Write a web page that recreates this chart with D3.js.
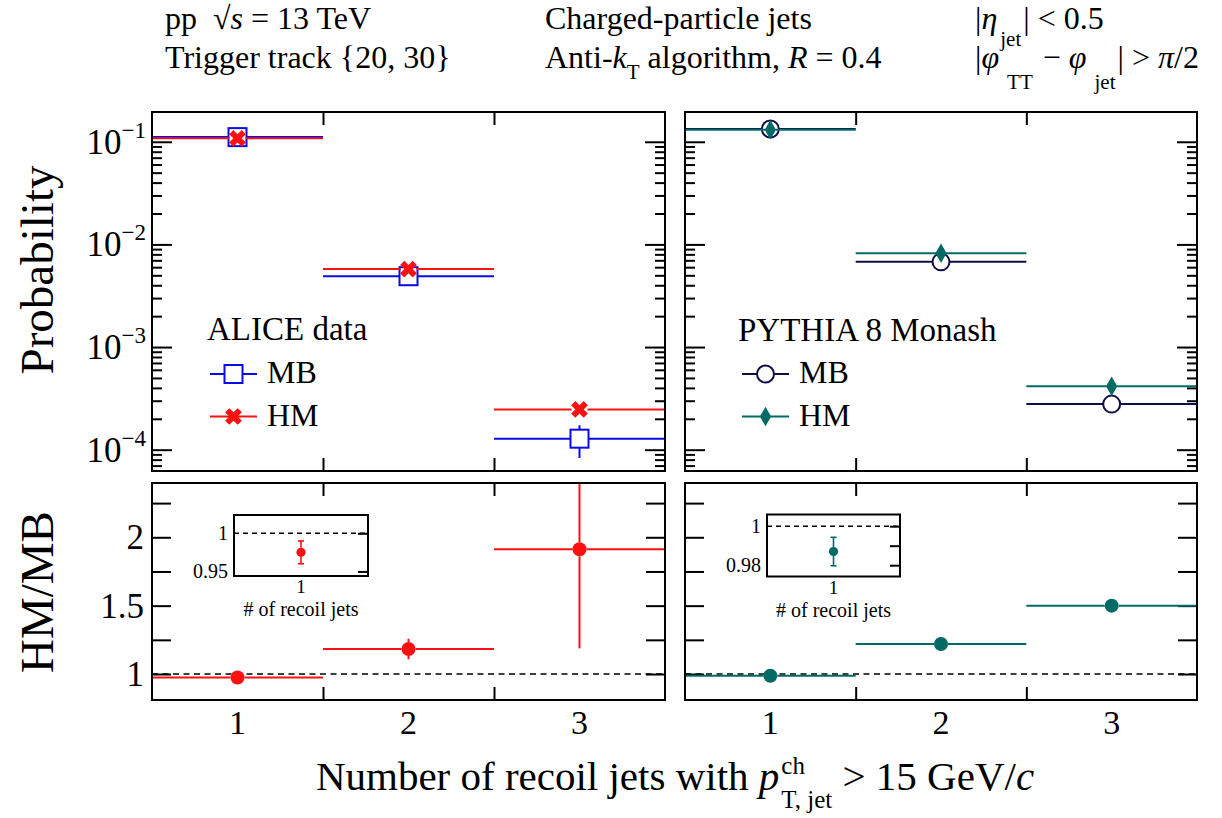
<!DOCTYPE html>
<html>
<head>
<meta charset="utf-8">
<script src="https://cdn.jsdelivr.net/npm/d3@7"></script>
<style>
  body { margin: 0; background: #fff; }
  text { font-family: "Liberation Serif", "Times New Roman", serif; fill: #000; white-space: pre; }
</style>
</head>
<body>
<div id="chart"></div>
<script>
// values (bins = number of recoil jets)
var bins = [1, 2, 3];
var binLabels = ["1", "2", "3"];

var aliceMB = [0.111, 0.0049, 0.000128];
var aliceMBErr = [0.0005, 0.00005, 0.000045];
var aliceHM = [0.108, 0.00575, 0.000247];
var aliceHMErr = [0.0003, 0.00003, 0.000008];

var pythiaMB = [0.133, 0.00676, 0.000278];
var pythiaHM = [0.131, 0.0082, 0.000416];

var aliceRatio = [0.975, 1.183, 1.912];
var aliceRatioErr = [0.015, 0.075, 0.724];
var pythiaRatio = [0.987, 1.22, 1.50];
var pythiaRatioErr = [0.0073, 0.01, 0.02];

var logTickValues = [1e-1, 1e-2, 1e-3, 1e-4];
var logTickExp = ["\u22121", "\u22122", "\u22123", "\u22124"];
var ratioTickValues = [1, 1.5, 2];
var ratioTickLabels = ["1", "1.5", "2"];
var ratioMinor = [1.25, 1.75, 2.25];
var aliceInsetTicks = [0.95, 1];
var aliceInsetLabels = ["0.95", "1"];
var pythiaInsetTicks = [0.98, 0.99, 1];
var pythiaInsetLabels = ["0.98", "", "1"];

var cBlue = "#0a0ae8", cRed = "#ff1010", cNavy = "#0e0e48", cTeal = "#006b64";

var svg = d3.select("#chart").append("svg")
  .attr("width", 1222).attr("height", 818);
var defs = svg.append("defs");

// panel geometry
var colL = [152, 665], colR = [685, 1197];
var rowTop = [112, 471], rowBot = [483, 700];

var xL = d3.scaleLinear().domain([0.5, 3.5]).range(colL);
var xR = d3.scaleLinear().domain([0.5, 3.5]).range(colR);
var yTop = d3.scaleLog().domain([6.2e-5, 0.195]).range([rowTop[1], rowTop[0]]);
var yRat = d3.scaleLinear().domain([0.81, 2.397]).range([rowBot[1], rowBot[0]]);

// text made of runs (italic, sub/superscripts)
function rich(g, x, y, runs, anchor, base) {
  var grp = g.append("g");
  var cursor = 0, prevStart = 0;
  runs.forEach(function(r) {
    var start = r.stack ? prevStart : cursor + (r.dx || 0);
    var t = grp.append("text")
      .attr("x", start).attr("y", y + (r.dy || 0))
      .attr("font-size", r.size || base)
      .attr("font-style", r.it ? "italic" : null)
      .text(r.t);
    var w = t.node().getComputedTextLength();
    prevStart = start;
    cursor = Math.max(cursor, start + w);
  });
  var shift = anchor === "end" ? -cursor : anchor === "middle" ? -cursor / 2 : 0;
  grp.attr("transform", "translate(" + (x + shift) + ",0)");
  return grp;
}

function styleTicks(s) {
  s.select(".domain").remove();
  s.selectAll("line").attr("stroke", "#000").attr("stroke-width", 2);
}

function ticksY(g, scale, x, side, values, len) {
  var ax = (side === "left" ? d3.axisLeft(scale) : d3.axisRight(scale))
    .tickValues(values).tickSize(-len).tickFormat("");
  g.append("g").attr("transform", "translate(" + x + ",0)").call(ax).call(styleTicks);
}

function ticksX(g, scale, y, side, values, len) {
  var ax = (side === "top" ? d3.axisTop(scale) : d3.axisBottom(scale))
    .tickValues(values).tickSize(-len).tickFormat("");
  g.append("g").attr("transform", "translate(0," + y + ")").call(ax).call(styleTicks);
}

function clipFor(id, xr, yr) {
  defs.append("clipPath").attr("id", id).append("rect")
    .attr("x", xr[0]).attr("y", yr[0]).attr("width", xr[1] - xr[0]).attr("height", yr[1] - yr[0]);
  return svg.append("g").attr("clip-path", "url(#" + id + ")");
}

// markers
function mSquare(g, x, y, col) {
  g.append("rect").attr("x", x - 9).attr("y", y - 9).attr("width", 18).attr("height", 18)
    .attr("fill", "#fff").attr("stroke", col).attr("stroke-width", 2);
}
function mX(g, x, y, col) {
  g.append("path").attr("d", d3.symbol(d3.symbolCross, 175)())
    .attr("transform", "translate(" + x + "," + y + ") rotate(45)").attr("fill", col);
}
function mCircle(g, x, y, col) {
  g.append("circle").attr("cx", x).attr("cy", y).attr("r", 8.5)
    .attr("fill", "#fff").attr("stroke", col).attr("stroke-width", 2);
}
function mDiamond(g, x, y, col) {
  g.append("path").attr("d", d3.symbol(d3.symbolDiamond, 110)())
    .attr("transform", "translate(" + x + "," + y + ")").attr("fill", col);
}
function mDot(r) {
  return function(g, x, y, col) {
    g.append("circle").attr("cx", x).attr("cy", y).attr("r", r).attr("fill", col);
  };
}

// horizontal bin-width bar + vertical error, stopping at the marker edge like ROOT
function drawSeries(g, xs, ys, vals, errs, col, marker, hw, hh) {
  vals.forEach(function(v, i) {
    var b = bins[i];
    var cx = xs(b), cy = ys(v);
    var seg = [[xs(b - 0.5), cy, cx - hw, cy], [cx + hw, cy, xs(b + 0.5), cy]];
    if (errs && errs[i]) {
      var lo = Math.max(v - errs[i], ys.domain()[0]);
      seg.push([cx, ys(v + errs[i]), cx, cy - hh]);
      if (ys(lo) > cy + hh) seg.push([cx, cy + hh, cx, ys(lo)]);
    }
    seg.forEach(function(s) {
      if ((s[2] - s[0]) < 0 || (s[3] - s[1]) < 0) return;
      g.append("line").attr("x1", s[0]).attr("y1", s[1]).attr("x2", s[2]).attr("y2", s[3])
        .attr("stroke", col).attr("stroke-width", 2);
    });
    marker(g, cx, cy, col);
  });
}

function frame(xr, yr) {
  svg.append("rect").attr("x", xr[0]).attr("y", yr[0])
    .attr("width", xr[1] - xr[0]).attr("height", yr[1] - yr[0])
    .attr("fill", "none").attr("stroke", "#000").attr("stroke-width", 2);
}

var logTicks = yTop.ticks();
var isPow = function(v) { var l = Math.log10(v); return Math.abs(l - Math.round(l)) < 1e-9; };
var logMinor = logTicks.filter(function(v) { return !isPow(v); });

function topPanel(id, xs, xr) {
  var g = svg.append("g");
  ticksY(g, yTop, xr[0], "left", logTickValues, 20);
  ticksY(g, yTop, xr[0], "left", logMinor, 10);
  ticksY(g, yTop, xr[1], "right", logTickValues, 20);
  ticksY(g, yTop, xr[1], "right", logMinor, 10);
  ticksX(g, xs, rowTop[0], "top", [1.5, 2.5], 13);
  ticksX(g, xs, rowTop[1], "bottom", [1.5, 2.5], 13);
  return clipFor(id, xr, rowTop);
}

function botPanel(id, xs, xr) {
  var g = svg.append("g");
  ticksY(g, yRat, xr[0], "left", ratioTickValues.concat(ratioMinor), 19);
  ticksY(g, yRat, xr[1], "right", ratioTickValues.concat(ratioMinor), 19);
  ticksX(g, xs, rowBot[0], "top", [1.5, 2.5], 13);
  ticksX(g, xs, rowBot[1], "bottom", [1.5, 2.5], 13);
  var c = clipFor(id, xr, rowBot);
  c.append("line").attr("x1", xr[0]).attr("x2", xr[1]).attr("y1", yRat(1)).attr("y2", yRat(1))
    .attr("stroke", "#000").attr("stroke-width", 1.6).attr("stroke-dasharray", "6,4.5");
  return c;
}

// ---- top left: ALICE
var gTL = topPanel("cTL", xL, colL);
drawSeries(gTL, xL, yTop, aliceMB, aliceMBErr, cBlue, mSquare, 9, 9);
drawSeries(gTL, xL, yTop, aliceHM, aliceHMErr, cRed, mX, 8, 8);
frame(colL, rowTop);

// ---- top right: PYTHIA
var gTR = topPanel("cTR", xR, colR);
drawSeries(gTR, xR, yTop, pythiaMB, null, cNavy, mCircle, 8.5, 8.5);
drawSeries(gTR, xR, yTop, pythiaHM, null, cTeal, mDiamond, 5, 9.5);
frame(colR, rowTop);

// ---- ratios
var gBL = botPanel("cBL", xL, colL);
drawSeries(gBL, xL, yRat, aliceRatio, aliceRatioErr, cRed, mDot(7), 7, 7);
frame(colL, rowBot);

var gBR = botPanel("cBR", xR, colR);
drawSeries(gBR, xR, yRat, pythiaRatio, pythiaRatioErr, cTeal, mDot(7), 7, 7);
frame(colR, rowBot);

// ---- insets (first bin zoomed)
function inset(xr, yr, dom, val, err, col, tv, tl) {
  var ys = d3.scaleLinear().domain(dom).range([yr[1], yr[0]]);
  var xs = d3.scaleLinear().domain([0, 2]).range(xr);
  svg.append("rect").attr("x", xr[0]).attr("y", yr[0]).attr("width", xr[1] - xr[0])
    .attr("height", yr[1] - yr[0]).attr("fill", "#fff");
  var g = svg.append("g");
  svg.append("line").attr("x1", xr[0]).attr("x2", xr[1]).attr("y1", ys(1)).attr("y2", ys(1))
    .attr("stroke", "#000").attr("stroke-width", 1.5).attr("stroke-dasharray", "5,4");
  ticksY(g, ys, xr[1], "right", tv, 10);
  var cx = xs(1), cy = ys(val);
  [[ys(val + err), cy - 4.5], [cy + 4.5, ys(val - err)]].forEach(function(s) {
    svg.append("line").attr("x1", cx).attr("x2", cx).attr("y1", s[0]).attr("y2", s[1])
      .attr("stroke", col).attr("stroke-width", 1.6);
  });
  [ys(val + err), ys(val - err)].forEach(function(y) {
    svg.append("line").attr("x1", cx - 3).attr("x2", cx + 3).attr("y1", y).attr("y2", y)
      .attr("stroke", col).attr("stroke-width", 1.6);
  });
  svg.append("circle").attr("cx", cx).attr("cy", cy).attr("r", 4.6).attr("fill", col);
  svg.append("rect").attr("x", xr[0]).attr("y", yr[0]).attr("width", xr[1] - xr[0])
    .attr("height", yr[1] - yr[0]).attr("fill", "none").attr("stroke", "#000").attr("stroke-width", 2);
  tv.forEach(function(v, i) {
    svg.append("text").attr("x", xr[0] - 6).attr("y", ys(v) + 7).attr("font-size", 20)
      .attr("text-anchor", "end").text(tl[i]);
  });
  svg.append("text").attr("x", cx).attr("y", yr[1] + 17).attr("font-size", 19)
    .attr("text-anchor", "middle").text("1");
  svg.append("text").attr("x", cx).attr("y", yr[1] + 40).attr("font-size", 20)
    .attr("text-anchor", "middle").text("# of recoil jets");
}
inset([234, 368], [515, 576], [0.944, 1.024], aliceRatio[0], aliceRatioErr[0], cRed,
  aliceInsetTicks, aliceInsetLabels);
inset([767, 900], [514.5, 576.5], [0.9742, 1.006], pythiaRatio[0], pythiaRatioErr[0], cTeal,
  pythiaInsetTicks, pythiaInsetLabels);

// ---- legends
function legendRow(x, y, col, marker, label) {
  svg.append("line").attr("x1", x).attr("x2", x + 47).attr("y1", y).attr("y2", y)
    .attr("stroke", col).attr("stroke-width", 2);
  marker(svg, x + 23.5, y, col);
  svg.append("text").attr("x", x + 57).attr("y", y + 9).attr("font-size", 32).text(label);
}
svg.append("text").attr("x", 207).attr("y", 340).attr("font-size", 33).text("ALICE data");
legendRow(210, 374, cBlue, mSquare, "MB");
legendRow(210, 416.5, cRed, mX, "HM");
svg.append("text").attr("x", 738).attr("y", 341).attr("font-size", 33).text("PYTHIA 8 Monash");
legendRow(742, 374, cNavy, mCircle, "MB");
legendRow(742, 416.5, cTeal, mDiamond, "HM");

// ---- axis labels
logTickValues.forEach(function(v, i) {
  rich(svg, 146, yTop(v) + 12, [{ t: "10" }, { t: logTickExp[i], size: 23, dy: -16 }], "end", 35);
});
ratioTickValues.forEach(function(v, i) {
  svg.append("text").attr("x", 144).attr("y", yRat(v) + 12).attr("font-size", 35)
    .attr("text-anchor", "end").text(ratioTickLabels[i]);
});
[xL, xR].forEach(function(xs) {
  bins.forEach(function(b, i) {
    svg.append("text").attr("x", xs(b)).attr("y", 734).attr("font-size", 34)
      .attr("text-anchor", "middle").text(binLabels[i]);
  });
});

svg.append("text").attr("transform", "translate(53,270) rotate(-90)")
  .attr("font-size", 47).attr("text-anchor", "middle").text("Probability");
svg.append("text").attr("transform", "translate(53,592) rotate(-90)")
  .attr("font-size", 47).attr("text-anchor", "middle").text("HM/MB");

rich(svg, 675, 790, [
  { t: "Number of recoil jets with " },
  { t: "p", it: true },
  { t: "ch", size: 25, dy: -16, dx: 2 },
  { t: "T, jet", size: 25, dy: 18, stack: true },
  { t: " > 15 GeV/" },
  { t: "c", it: true }
], "middle", 41);

// ---- header
var hs = 32, ss = 21;
rich(svg, 165, 29, [{ t: "pp  \u221A" }, { t: "s", it: true }, { t: " = 13 TeV" }], "start", hs);
rich(svg, 165, 68, [{ t: "Trigger track {20, 30}" }], "start", hs);
rich(svg, 545, 29, [{ t: "Charged-particle jets" }], "start", hs);
rich(svg, 545, 68, [
  { t: "Anti-" }, { t: "k", it: true }, { t: "T", size: ss, dy: 11 },
  { t: " algorithm, " }, { t: "R", it: true }, { t: " = 0.4" }
], "start", hs);
rich(svg, 975, 29, [
  { t: "|" }, { t: "\u03B7", it: true }, { t: "jet", size: ss, dy: 17, dx: 3 }, { t: "| < 0.5", dx: 2 }
], "start", hs);
rich(svg, 975, 68, [
  { t: "|" }, { t: "\u03C6", it: true }, { t: "TT", size: ss, dy: 21, dx: 8 },
  { t: " \u2212 ", dx: 2 }, { t: "\u03C6", it: true }, { t: "jet", size: ss, dy: 21, dx: 8 },
  { t: "| > ", dx: 2 }, { t: "\u03C0", it: true }, { t: "/2" }
], "start", hs);
</script>
</body>
</html>
